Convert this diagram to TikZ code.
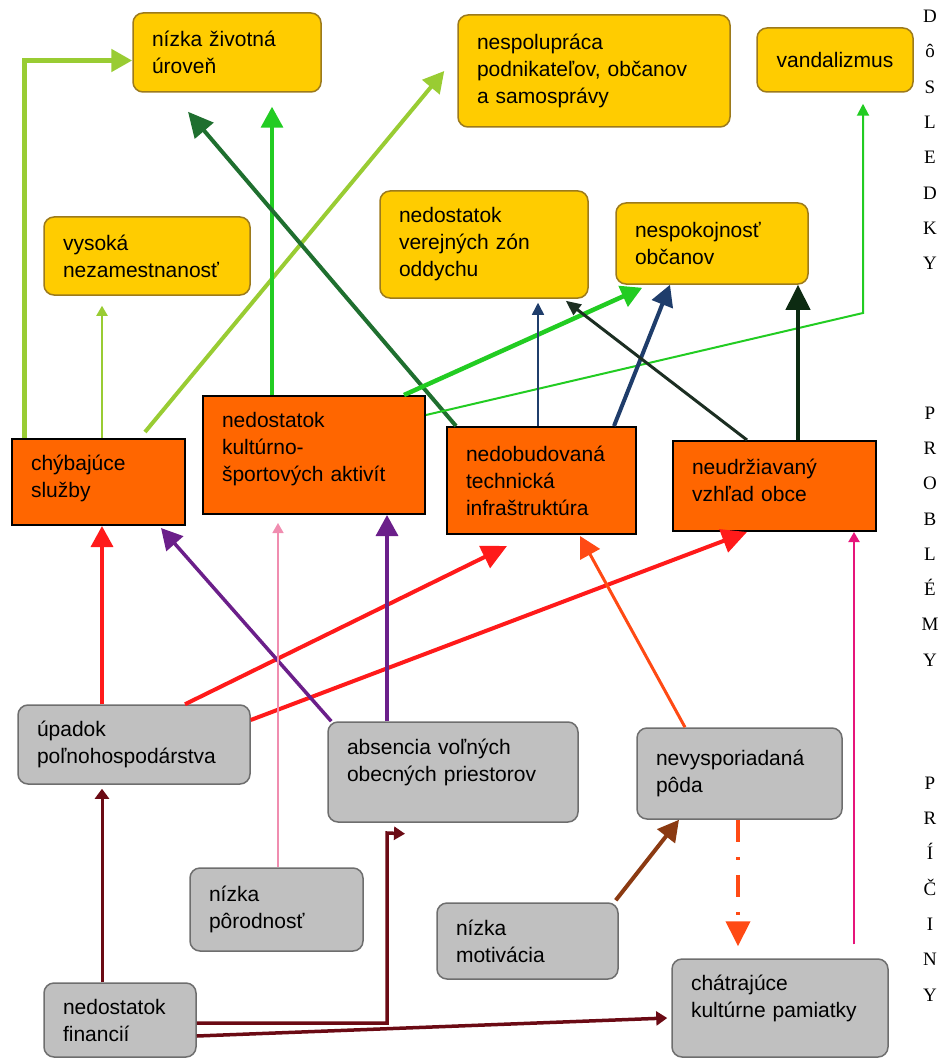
\documentclass[tikz,border=0pt]{standalone}
\usepackage{fontspec}
\setmainfont{Liberation Sans}
\newfontfamily\sidefont{Liberation Serif}
\usetikzlibrary{arrows.meta}

\definecolor{consfill}{HTML}{FFCC00}
\definecolor{consline}{HTML}{9C7A1C}
\definecolor{probfill}{HTML}{FF6600}
\definecolor{causefill}{HTML}{C0C0C0}
\definecolor{causeline}{HTML}{6E6E6E}
\definecolor{lgreen}{HTML}{99CC33}
\definecolor{mgreen}{HTML}{22CC22}
\definecolor{dgreen}{HTML}{1F6F2F}
\definecolor{navy}{HTML}{1F3D6B}
\definecolor{darkline}{HTML}{1C2E22}
\definecolor{vdark}{HTML}{0D2B12}
\definecolor{cred}{HTML}{FF1A1A}
\definecolor{cpurple}{HTML}{6B1F8A}
\definecolor{cpink}{HTML}{F08DB0}
\definecolor{corange}{HTML}{FF4A14}
\definecolor{cmagenta}{HTML}{E6157A}
\definecolor{cbrown}{HTML}{8B3A12}
\definecolor{maroon}{HTML}{6B0A14}

\tikzset{
  every node/.style={font=\fontsize{21}{27}\selectfont},
  box/.style={inner xsep=19pt, align=left},
  lift/.style={execute at end node={\par\vspace{#1}}},
  cons/.style={box, draw=consline, fill=consfill, line width=1.5pt, rounded corners=10pt},
  prob/.style={box, draw=black, fill=probfill, line width=2pt},
  cause/.style={box, draw=causeline, fill=causefill, line width=1.5pt, rounded corners=10pt},
  side/.style={font=\sidefont\fontsize{19}{35.3}\selectfont, align=center, inner sep=0pt},
  bigtip/.style={-{Triangle[length=21pt,width=22pt]}},
  hugetip/.style={-{Triangle[length=25pt,width=24pt]}},
  smalltip/.style={-{Triangle[length=10pt,width=11pt]}}
}

\begin{document}
\begin{tikzpicture}[x=1pt,y=-1pt]
\useasboundingbox (0,0) rectangle (944,1059);
% dosledky
\node[cons, text width=150pt, minimum height=79pt] (zivot) at (227,52.5) {nízka životná\\úroveň};
\node[cons, text width=234pt, minimum height=112pt] (nespol) at (594,71) {nespolupráca\\podnikateľov, občanov\\a samosprávy};
\node[cons, text width=118pt, minimum height=64pt, align=center] (vandal) at (835,60) {vandalizmus};
\node[cons, text width=168pt, minimum height=78pt] (nezam) at (147,256) {vysoká\\nezamestnanosť};
\node[cons, text width=170pt, minimum height=107pt] (zony) at (484,244.5) {nedostatok\\verejných zón\\oddychu};
\node[cons, text width=154pt, minimum height=81pt] (nespok) at (712,243.5) {nespokojnosť\\občanov};
% problemy
\node[prob, lift=8pt, text width=135pt, minimum height=86pt] (sluzby) at (98.5,482) {chýbajúce\\služby};
\node[prob, lift=12pt, text width=184pt, minimum height=118pt] (aktivity) at (314,455) {nedostatok\\kultúrno-\\športových aktivít};
\node[prob, text width=151pt, minimum height=107pt] (infra) at (541.5,480.5) {nedobudovaná\\technická\\infraštruktúra};
\node[prob, lift=12pt, text width=165pt, minimum height=90pt] (vzhlad) at (774.5,486) {neudržiavaný\\vzhľad obce};
% priciny
\node[cause, text width=194pt, minimum height=79pt] (upadok) at (134,744.5) {úpadok\\poľnohospodárstva};
\node[cause, lift=20pt, text width=212pt, minimum height=100pt] (absencia) at (453,772) {absencia voľných\\obecných priestorov};
\node[cause, text width=167pt, minimum height=91pt] (poda) at (739.5,773.5) {nevysporiadaná\\pôda};
\node[cause, text width=135pt, minimum height=83pt] (porod) at (276.5,909.5) {nízka\\pôrodnosť};
\node[cause, text width=143pt, minimum height=76pt] (motiv) at (527.5,941) {nízka\\motivácia};
\node[cause, text width=114pt, minimum height=74pt] (financie) at (120,1020) {nedostatok\\financií};
\node[cause, lift=20pt, text width=178pt, minimum height=98pt] (pamiatky) at (780,1008) {chátrajúce\\kultúrne pamiatky};
% side labels
\node[side] (dosledky) at (930,140) {D\\ô\\S\\L\\E\\D\\K\\Y};
\node[side] (problemy) at (930,536.5) {P\\R\\O\\B\\L\\É\\M\\Y};
\node[side] (priciny) at (930,889) {P\\R\\Í\\Č\\I\\N\\Y};
%
\coordinate (vbend) at (863,313);
\coordinate (felbow) at (387,833);
%
% problemy -> dosledky
\draw[lgreen, line width=5pt, bigtip] ([xshift=13pt]sluzby.north west) |- ([yshift=-8pt]zivot.west);
\draw[lgreen, line width=2pt, smalltip, shorten >=10pt] ([xshift=3.5pt]sluzby.north) -- ([xshift=3.5pt]sluzby.north |- nezam.south);
\draw[lgreen, line width=4pt, bigtip] ([xshift=46.5pt,yshift=6pt]sluzby.north) -- ([xshift=-13pt]nespol.west);
\draw[mgreen, line width=3.5pt, bigtip, shorten >=14pt] ([xshift=-42pt]aktivity.north) -- ([xshift=-42pt]aktivity.north |- zivot.south);
\draw[dgreen, line width=4pt, hugetip] ([xshift=10pt]infra.north west) -- ([xshift=-39pt,yshift=-19pt]zivot.south);
\draw[mgreen, line width=4.5pt, bigtip] ([xshift=-22pt]aktivity.north east) -- ([xshift=27pt,yshift=-3pt]nespok.south west);
\draw[mgreen, line width=2pt, -{Triangle[length=12pt,width=12pt]}] ([yshift=40pt]aktivity.east) -- (vbend) -- ([xshift=28pt,yshift=-11pt]vandal.south);
\draw[navy, line width=1.5pt, -{Triangle[length=12pt,width=12pt]}, shorten >=4pt] ([xshift=-3.5pt]infra.north) -- ([xshift=-3.5pt]infra.north |- zony.south);
\draw[navy, line width=4pt, bigtip] ([xshift=-23pt]infra.north east) -- ([xshift=-42pt]nespok.south);
\draw[darkline, line width=3pt, -{Triangle[length=15pt,width=13pt]}] ([xshift=-27.5pt]vzhlad.north) -- ([xshift=-23pt,yshift=-2pt]zony.south east);
\draw[vdark, line width=4pt, hugetip] ([xshift=23.5pt]vzhlad.north) -- ([xshift=23.5pt]vzhlad.north |- nespok.south);
%
% priciny -> problemy
\draw[cred, line width=3.5pt, bigtip] ([xshift=-32pt]upadok.north) -- ([xshift=-32pt]upadok.north |- sluzby.south);
\draw[cred, line width=4pt, hugetip] ([xshift=51pt]upadok.north) -- ([xshift=-34.5pt,yshift=-11pt]infra.south);
\draw[cred, line width=4pt, hugetip] ([yshift=24.5pt]upadok.east) -- ([xshift=-27.5pt]vzhlad.south);
\draw[cpurple, line width=3.5pt, bigtip] ([xshift=4pt]absencia.north west) -- ([xshift=-25pt,yshift=-2pt]sluzby.south east);
\draw[cpurple, line width=3.5pt, bigtip] ([xshift=-66pt]absencia.north) -- ([xshift=-66pt]absencia.north |- aktivity.south);
\draw[cpink, line width=1.5pt, smalltip, shorten >=8pt] ([xshift=1.5pt]porod.north) -- ([xshift=1.5pt]porod.north |- aktivity.south);
\draw[corange, line width=3pt, bigtip] ([xshift=-54.5pt]poda.north) -- ([xshift=38.5pt,yshift=-1pt]infra.south);
\draw[cmagenta, line width=2pt, smalltip] ([xshift=74pt,yshift=14pt]pamiatky.north) -- ([xshift=74pt]pamiatky.north |- vzhlad.south);
%
% medzi pricinami
\draw[corange, line width=4pt, hugetip, dash pattern=on 22pt off 15pt on 3pt off 15pt] ([xshift=-1.5pt]poda.south) -- ([xshift=-1.5pt,yshift=12pt]pamiatky.north -| poda.south);
\draw[cbrown, line width=4pt, bigtip] ([xshift=-3pt,yshift=2pt]motiv.north east) -- ([xshift=-60.5pt]poda.south);
\draw[maroon, line width=3pt, -{Triangle[length=10pt,width=14pt]}, shorten >=4pt] ([xshift=-18pt]financie.north) -- ([xshift=-18pt]financie.north |- upadok.south);
\draw[maroon, line width=3.5pt, -{Triangle[length=11pt,width=13pt]}] ([yshift=-3pt]financie.east) -| (felbow) -- ([xshift=-48pt,yshift=-11pt]absencia.south);
\draw[maroon, line width=3.5pt, -{Triangle[length=11pt,width=14pt]}] ([yshift=-16pt]financie.east) -- ([xshift=-4pt,yshift=-10pt]pamiatky.west);
\end{tikzpicture}
\end{document}
